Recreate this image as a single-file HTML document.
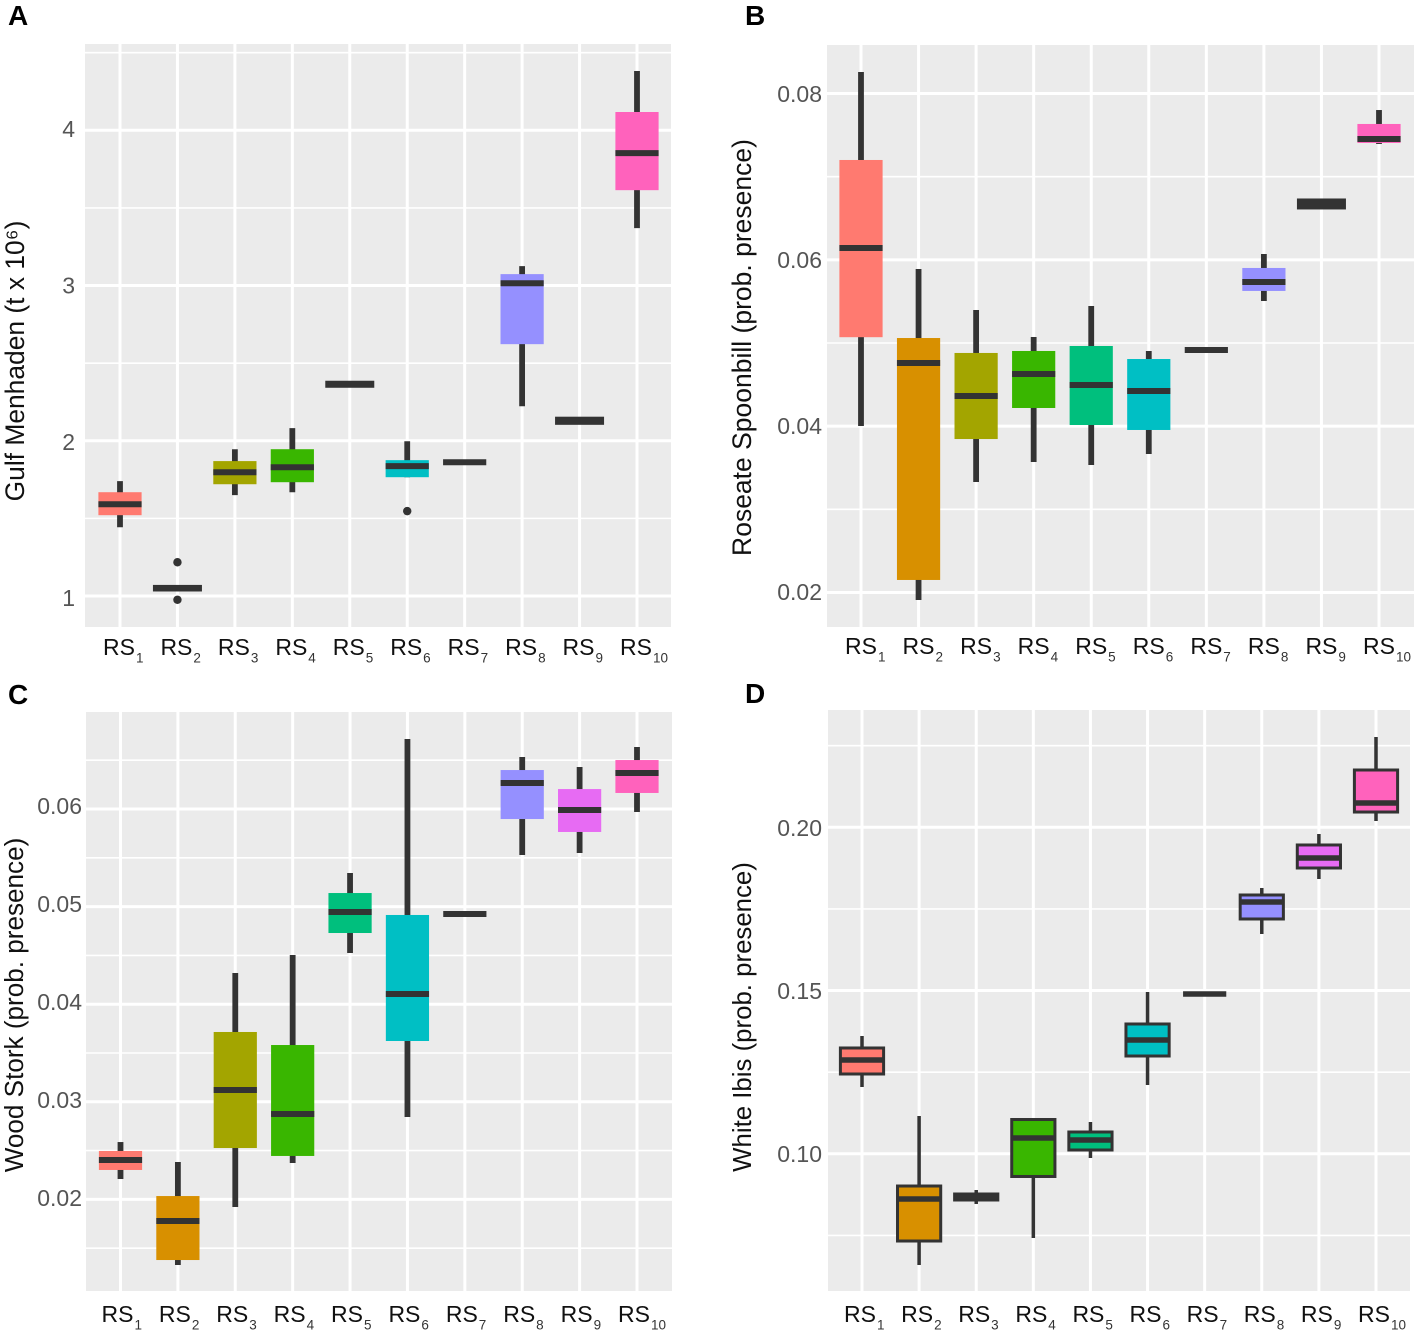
<!DOCTYPE html>
<html lang="en">
<head>
<meta charset="utf-8">
<title>Boxplots by scenario</title>
<style>
html,body{margin:0;padding:0;background:#fff;}
svg{display:block;font-family:"Liberation Sans",sans-serif;}
</style>
</head>
<body>
<svg id="figure" width="1417" height="1334" viewBox="0 0 1417 1334" xmlns="http://www.w3.org/2000/svg"></svg>
<script>
const categories = ['1','2','3','4','5','6','7','8','9','10'];
const boxFills = ['#FF7A70','#D89000','#A3A500','#39B600','#00BF7D','#00BFC4','#00B0F6','#9590FF','#E76BF3','#FF62BC'];

const aTicks = [1,2,3,4];
const aTickLabels = ['1','2','3','4'];
const aLow = [1.454,1.059,1.659,1.678,2.362,1.774,1.87,2.228,2.125,3.367];
const aQ1 = [1.531,1.059,1.729,1.742,2.362,1.774,1.87,2.625,2.125,3.61];
const aMedian = [1.601,1.064,1.806,1.838,2.37,1.845,1.87,3.015,2.133,3.847];
const aQ3 = [1.678,1.069,1.877,1.953,2.375,1.883,1.87,3.073,2.145,4.11];
const aHigh = [1.749,1.069,1.953,2.088,2.375,2.004,1.87,3.124,2.145,4.372];
const aOutlierCategory = [1,1,5];
const aOutlierValue = [1.23,0.99,1.557];

const bTicks = [0.02,0.04,0.06,0.08];
const bTickLabels = ['0.02','0.04','0.06','0.08'];
const bLow = [0.04,0.01904,0.03325,0.03566,0.0353,0.03663,0.04916,0.05506,0.06639,0.07398];
const bQ1 = [0.0507,0.02145,0.03843,0.04217,0.04012,0.03952,0.04916,0.05627,0.06639,0.0741];
const bMedian = [0.06145,0.04759,0.04361,0.04627,0.04494,0.04422,0.04916,0.05735,0.06675,0.07458];
const bQ3 = [0.07205,0.0506,0.0488,0.04904,0.04964,0.04807,0.04916,0.05904,0.06711,0.07639];
const bHigh = [0.08265,0.05892,0.05398,0.05072,0.05446,0.04904,0.04916,0.06072,0.06711,0.07807];
const bOutlierCategory = [];
const bOutlierValue = [];

const cTicks = [0.02,0.03,0.04,0.05,0.06];
const cTickLabels = ['0.02','0.03','0.04','0.05','0.06'];
const cLow = [0.02194,0.01316,0.01908,0.02357,0.045,0.02827,0.04898,0.055,0.0552,0.05939];
const cQ1 = [0.02286,0.01367,0.0251,0.02429,0.04704,0.03602,0.04898,0.05867,0.05735,0.06133];
const cMedian = [0.02388,0.01765,0.03102,0.02857,0.04918,0.04082,0.04898,0.06235,0.05959,0.06337];
const cQ3 = [0.0248,0.0202,0.03694,0.03561,0.05112,0.04888,0.04898,0.06367,0.06173,0.06469];
const cHigh = [0.02571,0.02367,0.04296,0.0448,0.05316,0.06684,0.04898,0.065,0.06398,0.06602];
const cOutlierCategory = [];
const cOutlierValue = [];

const dTicks = [0.10,0.15,0.20];
const dTickLabels = ['0.10','0.15','0.20'];
const dLow = [0.12055,0.06595,0.08466,0.07423,0.09877,0.12117,0.14908,0.16748,0.18436,0.20215];
const dQ1 = [0.12454,0.07331,0.08589,0.0931,0.10123,0.13006,0.14908,0.17209,0.18773,0.2049];
const dMedian = [0.12883,0.0862,0.08681,0.10491,0.10429,0.13497,0.14908,0.1773,0.1908,0.20767];
const dQ3 = [0.13252,0.09018,0.08773,0.11058,0.10675,0.13988,0.14908,0.17945,0.19479,0.21779];
const dHigh = [0.1362,0.11166,0.08896,0.11058,0.10982,0.14969,0.14908,0.1816,0.19816,0.22791];
const dOutlierCategory = [];
const dOutlierValue = [];

const NS = 'http://www.w3.org/2000/svg';
const figure = document.getElementById('figure');
const DARK = '#333333';

function make(parent, tag, attrs, text) {
  const el = document.createElementNS(NS, tag);
  for (const k in attrs) el.setAttribute(k, attrs[k]);
  if (text !== undefined) el.textContent = text;
  parent.appendChild(el);
  return el;
}

function drawPanel(p) {
  const g = make(figure, 'g', {});
  
  

  const y = v => p.tickPxA + (v - p.tickA) * (p.tickPxB - p.tickPxA) / (p.tickB - p.tickA);
  const gridY = v => p.gridPxA + (v - p.tickA) * (p.gridPxB - p.gridPxA) / (p.tickB - p.tickA);
  const x = i => p.firstX + i * (p.lastX - p.firstX) / (categories.length - 1);

  const letter = make(g, 'text', {x: p.letterX, y: p.letterY, 'font-size': 28, 'font-weight': 'bold', fill: '#000'}, p.letter);
  
  

  const bg = make(g, 'rect', {x: p.left, y: p.top, width: p.right - p.left, height: p.bottom - p.top, fill: '#ebebeb'});
  
  

  const step = p.ticks[1] - p.ticks[0];
  const minorVals = [p.ticks[0] - step / 2];
  p.ticks.forEach(t => minorVals.push(t + step / 2));
  minorVals.forEach(v => {
    const py = gridY(v);
    if (py < p.top || py > p.bottom) return;
    const line = make(g, 'line', {x1: p.left, x2: p.right, y1: py, y2: py, stroke: '#fff', 'stroke-width': 1.6});
    
    
  });
  p.ticks.forEach((v, i) => {
    const line = make(g, 'line', {x1: p.left, x2: p.right, y1: gridY(v), y2: gridY(v), stroke: '#fff', 'stroke-width': 3});
    
    
    const label = make(g, 'text', {x: p.tickX, y: y(v) + 8, 'font-size': 23, fill: '#555', 'text-anchor': 'end'}, p.tickLabels[i]);
    
    
  });
  categories.forEach((c, i) => {
    const line = make(g, 'line', {x1: x(i), x2: x(i), y1: p.top, y2: p.bottom, stroke: '#fff', 'stroke-width': 3});
    
    
    const label = make(g, 'text', {x: x(i) + p.labelOffset, y: p.labelY, 'font-size': 23, fill: '#111'}, 'RS');
    
    
    make(label, 'tspan', {'font-size': 13.5, dy: 7.5, dx: 1, fill: '#333'}, c);
  });

  const title = make(g, 'text', {transform: 'translate(' + p.titleX + ',' + p.titleY + ') rotate(-90)', 'font-size': p.titleSize, fill: '#111', 'text-anchor': 'middle'}, p.title);
  
  

  const halfBox = 21.6;
  categories.forEach((c, i) => {
    const box = make(g, 'g', {});
    
    
    const yLow = y(p.low[i]), yHigh = y(p.high[i]), yQ1 = y(p.q1[i]), yQ3 = y(p.q3[i]), yMed = y(p.median[i]);
    const h = yQ1 - yQ3;
    const sw = p.whiskerWidth;

    const whisker = make(box, 'line', {x1: x(i), x2: x(i), y1: yHigh, y2: yLow, stroke: DARK, 'stroke-width': sw});
    
    

    if (h > 0.5) {
      if (p.outlined) {
        const r = make(box, 'rect', {x: x(i) - halfBox, y: yQ3, width: halfBox * 2, height: h, fill: boxFills[i], stroke: DARK, 'stroke-width': 3});
        
        
      } else if (h < 8) {
        const r = make(box, 'rect', {x: x(i) - 24.5, y: yQ3 - 2.5, width: 49, height: h + 5, fill: DARK});
        
        
      } else {
        const r = make(box, 'rect', {x: x(i) - halfBox, y: yQ3, width: halfBox * 2, height: h, fill: boxFills[i]});
        
        
      }
    }
    const m = make(box, 'line', {x1: x(i) - halfBox, x2: x(i) + halfBox, y1: yMed, y2: yMed, stroke: DARK, 'stroke-width': p.medianWidth});
    
    
  });

  p.outlierCategory.forEach((ci, k) => {
    const o = make(g, 'circle', {cx: x(ci), cy: y(p.outlierValue[k]), r: 4.2, fill: DARK});
    
    
  });
}

drawPanel({name: 'panel-a-gulf-menhaden', letter: 'A', letterX: 8, letterY: 25, left: 85, right: 671, top: 44, bottom: 627,
  firstX: 120, lastX: 637, tickA: 1, tickPxA: 598.2, tickB: 4, tickPxB: 129.2, gridPxA: 596, gridPxB: 130.3, ticks: aTicks, tickLabels: aTickLabels, tickX: 75,
  labelY: 655, labelOffset: -17, title: 'Gulf Menhaden (t x 10\u2076)', titleX: 24, titleY: 361, titleSize: 26.4, whiskerWidth: 5.8, medianWidth: 6, outlined: false,
  low: aLow, q1: aQ1, median: aMedian, q3: aQ3, high: aHigh, outlierCategory: aOutlierCategory, outlierValue: aOutlierValue});

drawPanel({name: 'panel-b-roseate-spoonbill', letter: 'B', letterX: 745, letterY: 25, left: 827, right: 1414, top: 45, bottom: 627,
  firstX: 861, lastX: 1379, tickA: 0.02, tickPxA: 592, tickB: 0.08, tickPxB: 94, gridPxA: 592.5, gridPxB: 93.5, ticks: bTicks, tickLabels: bTickLabels, tickX: 822,
  labelY: 654, labelOffset: -16, title: 'Roseate Spoonbill (prob. presence)', titleX: 751, titleY: 347.5, titleSize: 26.5, whiskerWidth: 5.8, medianWidth: 6, outlined: false,
  low: bLow, q1: bQ1, median: bMedian, q3: bQ3, high: bHigh, outlierCategory: bOutlierCategory, outlierValue: bOutlierValue});

drawPanel({name: 'panel-c-wood-stork', letter: 'C', letterX: 8, letterY: 704, left: 86, right: 672, top: 712, bottom: 1291,
  firstX: 120.5, lastX: 637, tickA: 0.02, tickPxA: 1198, tickB: 0.06, tickPxB: 806, gridPxA: 1199.4, gridPxB: 809, ticks: cTicks, tickLabels: cTickLabels, tickX: 82,
  labelY: 1322, labelOffset: -19, title: 'Wood Stork (prob. presence)', titleX: 23, titleY: 1005, titleSize: 26.1, whiskerWidth: 5.8, medianWidth: 6, outlined: false,
  low: cLow, q1: cQ1, median: cMedian, q3: cQ3, high: cHigh, outlierCategory: cOutlierCategory, outlierValue: cOutlierValue});

drawPanel({name: 'panel-d-white-ibis', letter: 'D', letterX: 745, letterY: 703, left: 828, right: 1410, top: 710, bottom: 1291,
  firstX: 862, lastX: 1376, tickA: 0.10, tickPxA: 1154, tickB: 0.20, tickPxB: 828, gridPxA: 1153.8, gridPxB: 827.3, ticks: dTicks, tickLabels: dTickLabels, tickX: 822,
  labelY: 1322, labelOffset: -18, title: 'White Ibis (prob. presence)', titleX: 751, titleY: 1017, titleSize: 25.8, whiskerWidth: 3.5, medianWidth: 5.5, outlined: true,
  low: dLow, q1: dQ1, median: dMedian, q3: dQ3, high: dHigh, outlierCategory: dOutlierCategory, outlierValue: dOutlierValue});
</script>
</body>
</html>
